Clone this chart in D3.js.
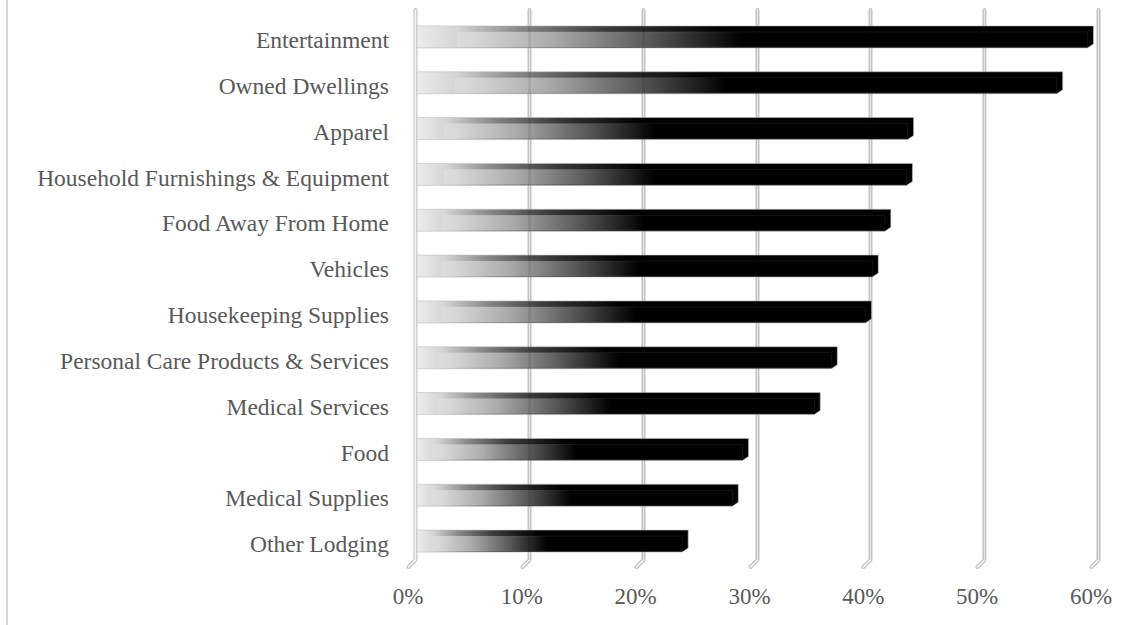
<!DOCTYPE html>
<html>
<head>
<meta charset="utf-8">
<script src="https://cdn.jsdelivr.net/npm/d3@7"></script>
<style>
  html, body { margin: 0; padding: 0; background: #ffffff; }
  svg { display: block; }
  text { font-family: "Liberation Serif", "Times New Roman", serif; }
</style>
</head>
<body>
<svg id="chart" width="1143" height="625"></svg>
<script>
// Share of spending by category (percent)
const categories = [
  "Entertainment", "Owned Dwellings", "Apparel", "Household Furnishings & Equipment",
  "Food Away From Home", "Vehicles", "Housekeeping Supplies",
  "Personal Care Products & Services", "Medical Services", "Food",
  "Medical Supplies", "Other Lodging"
];
const values = [59.6, 56.9, 43.8, 43.7, 41.8, 40.7, 40.1, 37.1, 35.6, 29.3, 28.4, 24.0];
const tickValues = [0, 10, 20, 30, 40, 50, 60];
const tickLabels = ["0%", "10%", "20%", "30%", "40%", "50%", "60%"];

const svg = d3.select("#chart");
const W = 1143, H = 625;

// depth offset of the 3D floor/walls
const depthX = 7, depthY = 7;
const wallTop = 10, wallBottom = 560;

const x = d3.scaleLinear().domain([0, 60]).range([415, 1098]);
const y = d3.scaleBand().domain(categories).range([17, 567]).paddingInner(0).paddingOuter(0);

// outer frame edge
svg.append("line")
  .attr("x1", 7).attr("x2", 7).attr("y1", 0).attr("y2", H)
  .attr("stroke", "#d9d9d9").attr("stroke-width", 2);

// gridlines on the back wall, bending onto the floor
const gridPath = v => {
  const gx = Math.round(x(v)) + 0.5;
  return `M${gx},${wallTop} L${gx},${wallBottom} L${gx - depthX},${wallBottom + depthY}`;
};
const grid = svg.append("g");
grid.selectAll("path.outer").data(tickValues).join("path")
  .attr("class", "outer")
  .attr("d", gridPath)
  .attr("fill", "none").attr("stroke", "#c4c4c4").attr("stroke-width", 4)
  .attr("stroke-linecap", "round").attr("stroke-linejoin", "round");
grid.selectAll("path.inner").data(tickValues).join("path")
  .attr("class", "inner")
  .attr("d", gridPath)
  .attr("fill", "none").attr("stroke", "#f7f7f7").attr("stroke-width", 1.6)
  .attr("stroke-linecap", "round").attr("stroke-linejoin", "round");

const defs = svg.append("defs");

const bars = svg.append("g");
categories.forEach((c, i) => {
  const v = values[i];
  const x0 = x(0) + 2;
  const x1 = x(v);
  const len = x1 - x0;
  const yc = y(c) + y.bandwidth() / 2;
  const top = yc - 14, bottom = yc + 8;

  // gradient for the bar's top/back body
  const gA = defs.append("linearGradient")
    .attr("id", "ga" + i).attr("gradientUnits", "userSpaceOnUse")
    .attr("x1", x0).attr("x2", x1).attr("y1", 0).attr("y2", 0);
  [[0, "#ececec"], [0.06, "#d4d4d4"], [0.15, "#8a8a8a"], [0.28, "#3a3a3a"], [0.45, "#000000"], [1, "#000000"]]
    .forEach(s => gA.append("stop").attr("offset", s[0]).attr("stop-color", s[1]));

  // gradient for the front face
  const gB = defs.append("linearGradient")
    .attr("id", "gb" + i).attr("gradientUnits", "userSpaceOnUse")
    .attr("x1", x0).attr("x2", x1).attr("y1", 0).attr("y2", 0);
  [[0, "#e2e2e2"], [0.08, "#d8d8d8"], [0.2, "#ababab"], [0.34, "#5a5a5a"], [0.48, "#000000"], [1, "#000000"]]
    .forEach(s => gB.append("stop").attr("offset", s[0]).attr("stop-color", s[1]));

  // body with a chamfered lower-right corner
  bars.append("path")
    .attr("d", `M${x0},${top} L${x1},${top} L${x1},${bottom - 4} L${x1 - 6},${bottom} L${x0},${bottom} Z`)
    .attr("fill", `url(#ga${i})`)
    .attr("stroke", "#c0c0c0").attr("stroke-width", 0.6);

  // front face
  const inset = Math.max(5, 0.072 * len - 8.5);
  bars.append("rect")
    .attr("x", x0 + inset).attr("y", yc - 8)
    .attr("width", x1 - 6 - (x0 + inset)).attr("height", 15)
    .attr("fill", `url(#gb${i})`)
    .attr("stroke", "rgba(255,255,255,0.12)").attr("stroke-width", 0.6);
});

// faint gridline traces visible across the bars
svg.append("g").selectAll("line").data(tickValues.slice(1)).join("line")
  .attr("x1", d => Math.round(x(d)) + 0.5).attr("x2", d => Math.round(x(d)) + 0.5)
  .attr("y1", wallTop).attr("y2", wallBottom)
  .attr("stroke", "#000").attr("stroke-opacity", 0.07).attr("stroke-width", 3);

// category labels
svg.append("g").selectAll("text").data(categories).join("text")
  .attr("x", 389)
  .attr("y", d => y(d) + y.bandwidth() / 2)
  .attr("dy", "0.35em")
  .attr("text-anchor", "end")
  .attr("font-size", 23.5)
  .attr("fill", "#595959")
  .text(d => d);

// value axis labels along the front edge of the floor
svg.append("g").selectAll("text").data(tickValues).join("text")
  .attr("x", d => x(d) - depthX)
  .attr("y", 596)
  .attr("dy", "0.35em")
  .attr("text-anchor", "middle")
  .attr("font-size", 23)
  .attr("fill", "#595959")
  .text((d, i) => tickLabels[i]);
</script>
</body>
</html>
